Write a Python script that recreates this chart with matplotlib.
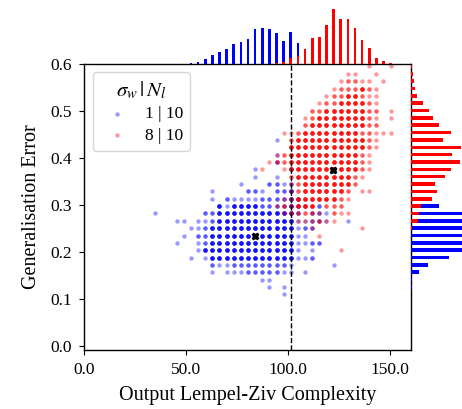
import numpy as np
import matplotlib
matplotlib.use("Agg")
import matplotlib.pyplot as plt

plt.rcParams["font.family"] = "Liberation Serif"
plt.rcParams["mathtext.fontset"] = "stix"

# LZ complexity comes in steps of 3.5, the error in steps of 1/64.
# Grid cells: row j -> (first column k, shade per column); '.' empty, 1 light, 2 medium, 3 dark
x_step = 3.5
y_step = 1 / 64
shade_count = {"1": 1, "2": 2, "3": 5}

blue_cells = {
    28: (27, "1"),
    26: (27, "1"),
    25: (27, "2"),
    24: (24, "1....2"),
    23: (24, "1..1"),
    22: (22, "1...2212"),
    21: (18, "1....221.223"),
    20: (18, "1.21111222232"),
    19: (19, "3133332222321.2"),
    18: (10, "1......22" + "3" * 11 + "2.221"),
    17: (13, "11.112" + "3" * 11 + "11221..1"),
    16: (15, "112" + "3" * 12 + "122"),
    15: (14, "1.22" + "3" * 12 + "11"),
    14: (13, "1..12" + "3" * 12 + "1122"),
    13: (16, "1" + "3" * 13 + "1.1"),
    12: (15, "1.1" + "3" * 12 + "112"),
    11: (18, "2112" + "2" * 7 + "1.....1"),
    10: (18, "1.1112222211.1"),
    9: (25, "11"),
    8: (26, "1.1"),
    7: (28, "1"),
}

red_cells = {
    38: (40, "1..1"),
    37: (37, "11..1"),
    36: (36, "12211.1"),
    35: (35, "1222321"),
    34: (34, "12233211"),
    33: (33, "122333321"),
    32: (32, "22" + "3" * 6 + "22.1"),
    31: (31, "12" + "3" * 7 + "21.1"),
    30: (31, "2" + "3" * 8 + "22"),
    29: (28, "112" + "3" * 8 + "22111"),
    28: (29, "2" + "3" * 10 + "21"),
    27: (29, "3" * 11 + "21"),
    26: (27, "12" + "3" * 10 + "21"),
    25: (26, "122" + "3" * 10 + "21"),
    24: (25, "1..1" + "3" * 10 + "21"),
    23: (29, "2" + "3" * 8 + "21"),
    22: (29, "12" + "3" * 7 + "2"),
    21: (29, "12" + "3" * 6 + "2.11"),
    20: (28, "12" + "3" * 6 + "21"),
    19: (27, "122333.222"),
    18: (28, "122221.211"),
    17: (30, "111211"),
    16: (32, "1......1"),
    15: (33, "1"),
    13: (36, "1"),
}

# marginal counts (arbitrary units)
top_k = np.arange(15, 44)
blue_top = [2, 5, 14, 25, 35, 42, 57, 64, 73, 102, 107, 103, 92, 68, 93, 60, 3,
            0, 0, 0, 0, 0, 0, 0, 0, 0, 0, 0, 0]
red_top = [0, 0, 0, 0, 0, 0, 0, 0, 0, 0, 0, 0, 1, 5, 18, 22, 43, 75, 78, 115,
           162, 132, 132, 105, 70, 45, 17, 8, 3]

right_j = np.arange(8, 39)
blue_right = [2, 3, 25, 50, 115, 175, 200, 205, 210, 200, 190, 83, 4,
              0, 0, 0, 0, 0, 0, 0, 0, 0, 0, 0, 0, 0, 0, 0, 0, 0, 0]
red_right = [0, 0, 0, 0, 0, 0, 0, 1, 3, 20, 23, 30, 62, 77, 73, 101, 120, 148,
             123, 150, 97, 120, 85, 65, 55, 37, 18, 13, 10, 5, 3]

blue_mean = (84.1, 0.234)
red_mean = (122.3, 0.374)
split_lz = 101.5


def expand(cells):
    xs, ys = [], []
    for j, (k0, shades) in cells.items():
        for i, c in enumerate(shades):
            if c == ".":
                continue
            n = shade_count[c]
            xs += [(k0 + i) * x_step] * n
            ys += [j * y_step] * n
    return np.array(xs), np.array(ys)


bx, by = expand(blue_cells)
rx, ry = expand(red_cells)

fig = plt.figure(figsize=(4.62, 4.09), dpi=100)
ax = fig.add_axes([0.1818, 0.1443, 0.7078, 0.7004])
ax_top = fig.add_axes([0.1818, 0.8447, 0.7078, 0.1553], sharex=ax)
ax_right = fig.add_axes([0.8896, 0.1443, 0.1104, 0.7004], sharey=ax)

ax.scatter(bx, by, s=10, color="blue", alpha=0.4, linewidths=0, label="1 | 10")
ax.scatter(rx, ry, s=10, color="red", alpha=0.4, linewidths=0, label="8 | 10")
ax.plot(*blue_mean, marker="X", color="black", markersize=5, linestyle="none")
ax.plot(*red_mean, marker="X", color="black", markersize=5, linestyle="none")
ax.axvline(split_lz, color="black", linestyle="--", linewidth=1)

ax.set_xlim(0, 160.5)
ax.set_ylim(-0.009, 0.6)
ax.set_xticks([0, 50, 100, 150])
ax.set_xticklabels(["0.0", "50.0", "100.0", "150.0"])
ax.set_yticks(np.arange(0, 0.61, 0.1))
ax.set_yticklabels(["%.1f" % v for v in np.arange(0, 0.61, 0.1)])
ax.tick_params(labelsize=12.5, pad=5)
for sp in ax.spines.values():
    sp.set_linewidth(1.0)
ax.set_xlabel("Output Lempel-Ziv Complexity", fontsize=14.5, labelpad=6)
ax.set_ylabel("Generalisation Error", fontsize=14.5, labelpad=7)
ax.legend(title=r"$\sigma_w\,|\,N_l$", loc="upper left", fontsize=12.5,
          title_fontsize=15, borderaxespad=0.5, labelspacing=0.3,
          handletextpad=0.6)

ax_top.bar(top_k * x_step, blue_top, width=1.3, color="blue")
ax_top.bar(top_k * x_step, red_top, width=1.3, color="red")
ax_top.set_ylim(0, 190)
ax_top.axis("off")

ax_right.barh(right_j * y_step, blue_right, height=0.0075, color="blue")
ax_right.barh(right_j * y_step, red_right, height=0.0075, color="red")
ax_right.set_xlim(0, 153)
ax_right.axis("off")

fig.savefig("out.png", dpi=100)
